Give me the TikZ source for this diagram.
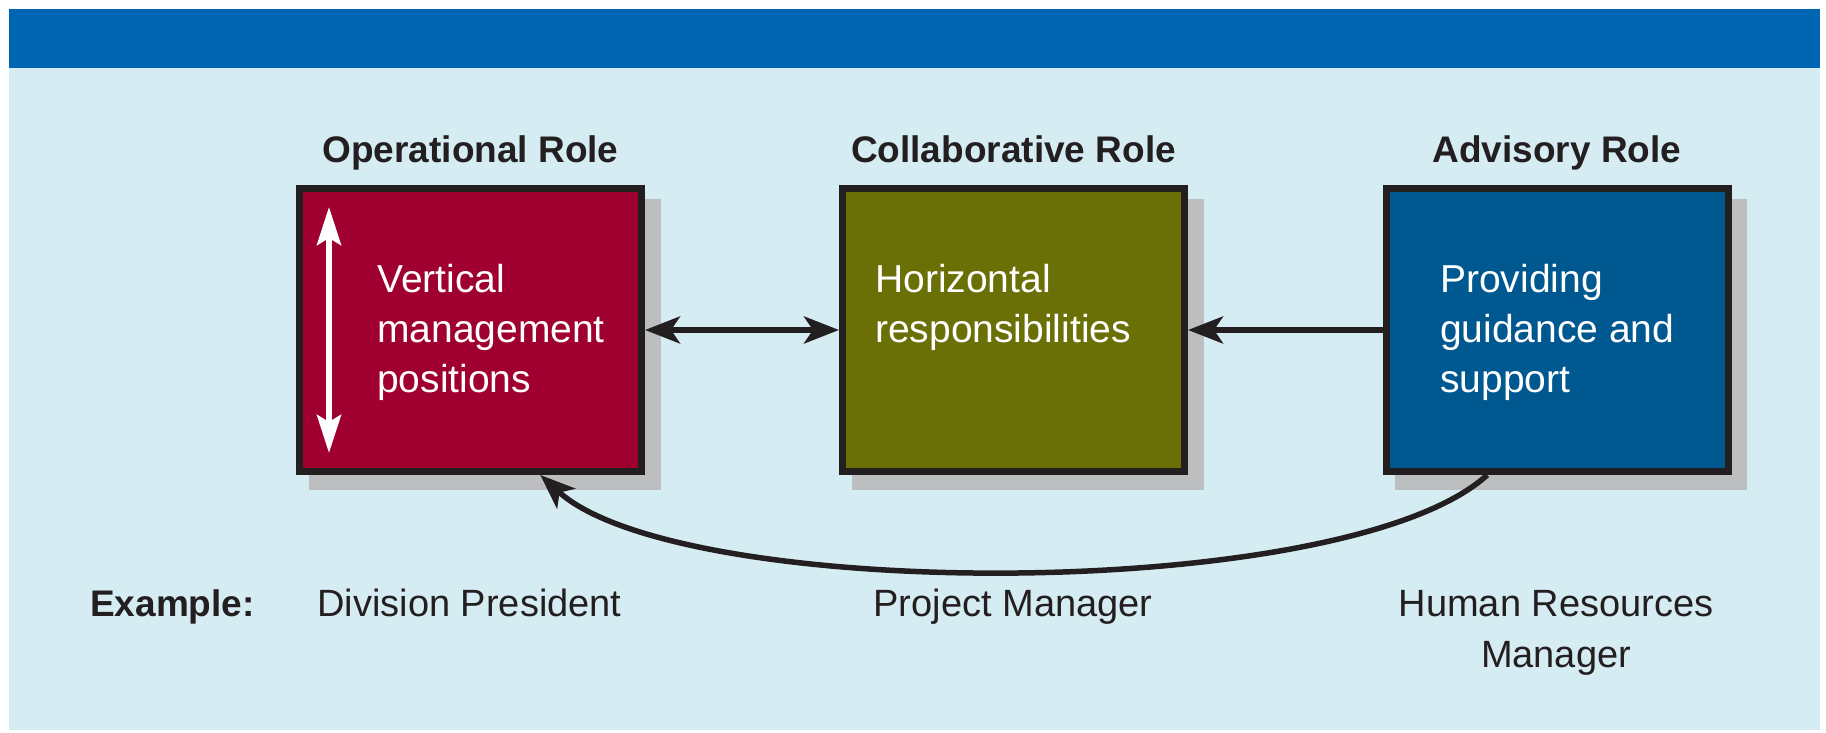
\documentclass[tikz,border=0pt]{standalone}
\usepackage{fontspec}
\setmainfont{Liberation Sans}
\usetikzlibrary{arrows.meta,calc,backgrounds}
\definecolor{bandblue}{RGB}{0,102,179}
\definecolor{bgblue}{RGB}{213,236,243}
\definecolor{opred}{RGB}{160,0,48}
\definecolor{colgreen}{RGB}{106,112,5}
\definecolor{advblue}{RGB}{0,88,145}
\definecolor{edgec}{RGB}{35,31,32}
\definecolor{shadowgray}{RGB}{188,190,192}
\definecolor{txt}{RGB}{35,31,32}
\begin{document}
\begin{tikzpicture}[x=1pt,y=1pt,
 rolebox/.style={draw=edgec, line width=7pt, minimum width=342pt, minimum height=283pt, inner sep=0pt},
 roletitle/.style={font=\bfseries\fontsize{37}{44}\selectfont, text=txt, anchor=base, inner sep=0pt},
 boxtext/.style={font=\fontsize{39}{50}\selectfont, text=white, align=left, anchor=base west, inner sep=0pt},
 example/.style={font=\fontsize{38}{51}\selectfont, text=txt, align=center, anchor=base, inner sep=0pt},
 tipk/.tip={Stealth[length=35pt,width=27pt,inset=9pt]},
 tipw/.tip={Stealth[length=38pt,width=24pt,inset=7pt]},
 conn/.style={draw=edgec, line width=5.5pt},
 ]
\useasboundingbox (0,0) rectangle (1826,733);
% boxes
\node[rolebox, fill=opred] (b1) at (470.5,403) {};
\node[rolebox, fill=colgreen] (b2) at (1013.5,403) {};
\node[rolebox, fill=advblue] (b3) at (1557,403) {};
\begin{scope}[on background layer]
\fill[white] (0,0) rectangle (1826,733);
\fill[bgblue] (9,3) rectangle (1820,665);
\fill[bandblue] (9,665) rectangle (1820,724);
\foreach \b in {b1,b2,b3}{
  \fill[shadowgray] ($(\b.north west)+(12.5,-14.5)$) rectangle ($(\b.south east)+(15.5,-15.5)$);
}
\end{scope}
% titles
\node[roletitle] (h1) at (470.5,570) {Operational Role};
\node[roletitle] (h2) at (1013.5,570) {Collaborative Role};
\node[roletitle] (h3) at (1557,570) {Advisory Role};
% box texts (base = last line)
\node[boxtext] (t1) at (377,340) {Vertical\\management\\positions};
\node[boxtext] (t2) at (875,390) {Horizontal\\responsibilities};
\node[boxtext] (t3) at (1440,340) {Providing\\guidance and\\support};
% white vertical arrow
\coordinate (va) at (329,526);
\coordinate (vb) at (329,280);
\draw[white, line width=6pt, tipw-tipw] (va) -- (vb);
% connectors
\draw[conn, tipk-tipk] (b1.east) -- (b2.west);
\draw[conn, -tipk] (b3.west) -- (b2.east);
\draw[conn, -tipk] ($(b3.south west)!0.3!(b3.south east)$) .. controls +(-140,-128) and +(140,-128) .. ($(b1.south west)!0.7!(b1.south east)$);
% examples
\node[example, font=\bfseries\fontsize{37}{44}\selectfont, anchor=base west] (ex) at (90,116) {Example:};
\node[example] (l1) at (469.5,116) {Division President};
\node[example] (l2) at (1013,116) {Project Manager};
\node[example] (l3) at (1556,65) {Human Resources\\Manager};
\end{tikzpicture}
\end{document}
